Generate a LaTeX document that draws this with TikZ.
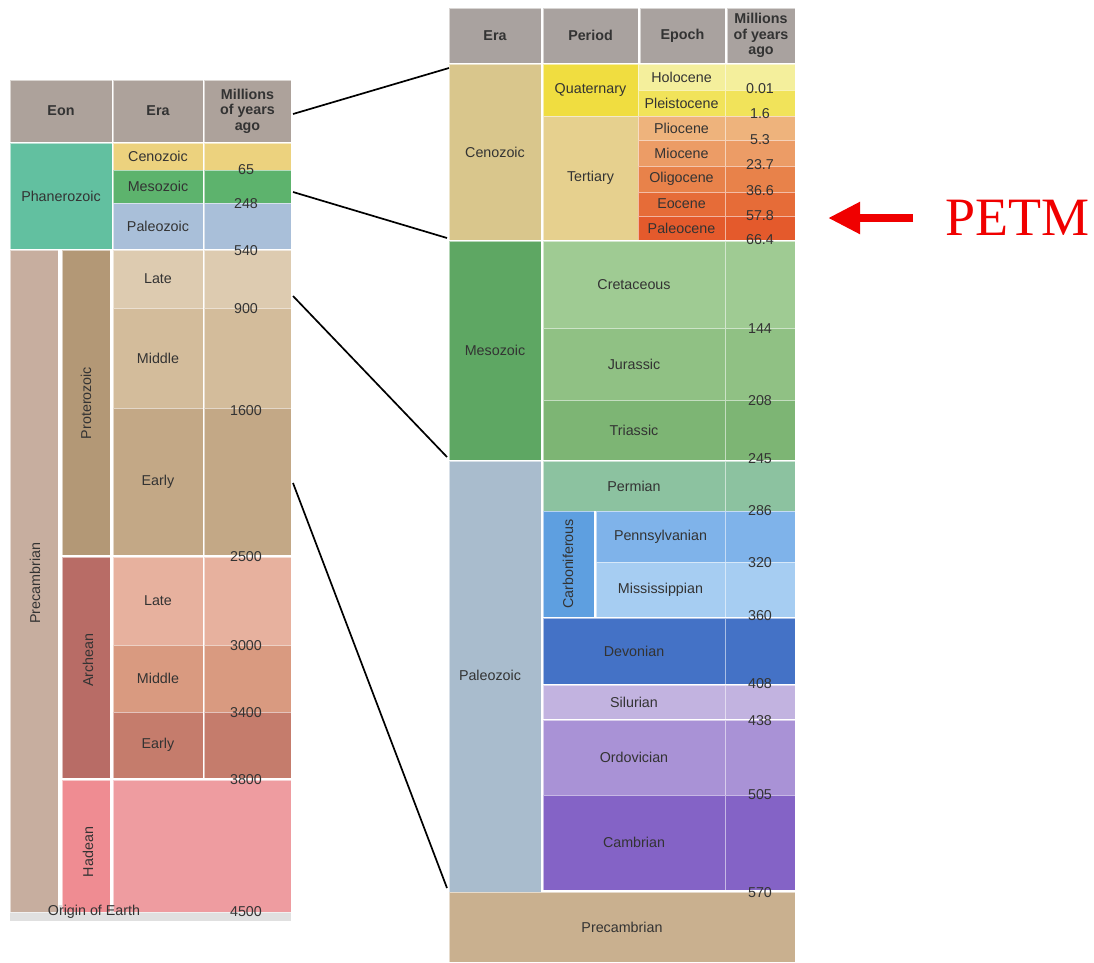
\documentclass[tikz,border=0pt]{standalone}
\usepackage{fontspec}
\newfontfamily\lab{Liberation Sans}
\newfontfamily\serifpetm{Liberation Serif}
\usetikzlibrary{arrows.meta}
\definecolor{hdr}{HTML}{ADA29B}
\definecolor{rhdr}{HTML}{A9A29F}
\definecolor{cPhan}{HTML}{62C0A0}
\definecolor{cCenoL}{HTML}{ECD27E}
\definecolor{cMesoL}{HTML}{5DB36D}
\definecolor{cPaleoL}{HTML}{A9BFD9}
\definecolor{cPrecEon}{HTML}{C7AE9F}
\definecolor{cProt}{HTML}{B39876}
\definecolor{cPLate}{HTML}{DDCBB0}
\definecolor{cPMid}{HTML}{D3BC9B}
\definecolor{cPEarly}{HTML}{C3A886}
\definecolor{cArch}{HTML}{B86C66}
\definecolor{cALate}{HTML}{E7B19E}
\definecolor{cAMid}{HTML}{D99A80}
\definecolor{cAEarly}{HTML}{C57C6C}
\definecolor{cHad}{HTML}{EF8C92}
\definecolor{cHadB}{HTML}{EE9CA0}
\definecolor{cCeno}{HTML}{D9C68C}
\definecolor{cQuat}{HTML}{F0DD40}
\definecolor{cTert}{HTML}{E6D08E}
\definecolor{cHolo}{HTML}{F4EF9C}
\definecolor{cPleis}{HTML}{F1E35A}
\definecolor{cPlio}{HTML}{EEB37C}
\definecolor{cMio}{HTML}{EC9C66}
\definecolor{cOligo}{HTML}{E8824A}
\definecolor{cEo}{HTML}{E66C38}
\definecolor{cPaleo}{HTML}{E45A2C}
\definecolor{cMeso}{HTML}{5EA763}
\definecolor{cCret}{HTML}{9FCB93}
\definecolor{cJur}{HTML}{90C184}
\definecolor{cTri}{HTML}{7DB574}
\definecolor{cPz}{HTML}{A9BCCD}
\definecolor{cPerm}{HTML}{8CC2A0}
\definecolor{cCarb}{HTML}{5E9FE0}
\definecolor{cPenn}{HTML}{7FB3EA}
\definecolor{cMiss}{HTML}{A6CDF2}
\definecolor{cDev}{HTML}{4472C6}
\definecolor{cSil}{HTML}{C2B3E0}
\definecolor{cOrd}{HTML}{A992D6}
\definecolor{cCamb}{HTML}{8463C6}
\definecolor{cPrec}{HTML}{C9B08F}
\definecolor{txt}{HTML}{333333}
\definecolor{petmred}{HTML}{F00000}
\newcommand\cellbox[7]{\node[cell,fill=#6,minimum width={(#4-#2)*1pt},minimum height={(#5-#3)*1pt},anchor=north west] (#1) at (#2,#3) {#7};}
\begin{document}
\begin{tikzpicture}[x=1pt,y=-1pt,
  cell/.style={draw=white,draw opacity=0.55,line width=0.9pt,inner sep=0pt,outer sep=0pt,
    text=txt,font=\lab\fontsize{14.3}{16}\selectfont,align=center},
  hcell/.style={cell,font=\lab\bfseries\fontsize{14.3}{15.5}\selectfont},
  lbl/.style={inner sep=0pt,text=txt,font=\lab\fontsize{14.3}{16}\selectfont},
  num/.style={inner sep=0pt,text=txt,font=\lab\fontsize{14.3}{16}\selectfont},
  conn/.style={black,line width=1.7pt}]
\useasboundingbox (0,0) rectangle (1094,962);
\fill[white] (0,0) rectangle (1094,962);
% ---------------- left panel ----------------
\fill[black!12] (10,905) rectangle (291,921);
\cellbox{lhEon}{10}{80}{112}{142}{hdr}{}
\node[hcell,draw=none,fill=none] (lhEonT) at (lhEon.center) {Eon};
\cellbox{lhEra}{113}{80}{203}{142}{hdr}{}
\node[hcell,draw=none,fill=none] (lhEraT) at (lhEra.center) {Era};
\cellbox{lhMya}{204}{80}{291}{142}{hdr}{}
\node[hcell,draw=none,fill=none] (lhMyaT) at (lhMya.center) {Millions\\of years\\ago};
\cellbox{lPhan}{10}{143}{112}{249}{cPhan}{Phanerozoic}
\cellbox{lCeno}{113}{143}{203}{170}{cCenoL}{Cenozoic}
\cellbox{lCenoM}{204}{143}{291}{170}{cCenoL}{}
\cellbox{lMeso}{113}{170}{203}{203}{cMesoL}{Mesozoic}
\cellbox{lMesoM}{204}{170}{291}{203}{cMesoL}{}
\cellbox{lPz}{113}{203}{203}{249}{cPaleoL}{Paleozoic}
\cellbox{lPzM}{204}{203}{291}{249}{cPaleoL}{}
\cellbox{lPrecE}{10}{250}{58}{912}{cPrecEon}{}
\cellbox{lProt}{62}{250}{110}{555}{cProt}{}
\cellbox{lPLate}{113}{250}{203}{308}{cPLate}{Late}
\cellbox{lPLateM}{204}{250}{291}{308}{cPLate}{}
\cellbox{lPMid}{113}{308}{203}{408}{cPMid}{Middle}
\cellbox{lPMidM}{204}{308}{291}{408}{cPMid}{}
\cellbox{lPEarly}{113}{408}{203}{555}{cPEarly}{Early}
\cellbox{lPEarlyM}{204}{408}{291}{555}{cPEarly}{}
\cellbox{lArch}{62}{557}{110}{778}{cArch}{}
\cellbox{lALate}{113}{557}{203}{645}{cALate}{Late}
\cellbox{lALateM}{204}{557}{291}{645}{cALate}{}
\cellbox{lAMid}{113}{645}{203}{712}{cAMid}{Middle}
\cellbox{lAMidM}{204}{645}{291}{712}{cAMid}{}
\cellbox{lAEarly}{113}{712}{203}{778}{cAEarly}{Early}
\cellbox{lAEarlyM}{204}{712}{291}{778}{cAEarly}{}
\cellbox{lHad}{62}{780}{110}{912}{cHad}{}
\cellbox{lHadB}{113}{780}{291}{912}{cHadB}{}
\node[lbl,rotate=90] (lPrecT) at (35,583) {Precambrian};
\node[lbl,rotate=90] (lProtT) at (86,403) {Proterozoic};
\node[lbl,rotate=90] (lArchT) at (88,660) {Archean};
\node[lbl,rotate=90] (lHadT) at (88,852) {Hadean};
\node[num] (n65) at (246,170) {65};
\node[num] (n248) at (246,204) {248};
\node[num] (n540) at (246,251) {540};
\node[num] (n900) at (246,309) {900};
\node[num] (n1600) at (246,411) {1600};
\node[num] (n2500) at (246,557) {2500};
\node[num] (n3000) at (246,646) {3000};
\node[num] (n3400) at (246,713) {3400};
\node[num] (n3800) at (246,780) {3800};
\node[num] (n4500) at (246,912) {4500};
\node[lbl] (origin) at (94,912) {Origin of Earth};
% ---------------- right panel ----------------
\cellbox{rhEra}{449}{8}{541}{63}{rhdr}{}
\node[hcell,draw=none,fill=none] (rhEraT) at (rhEra.center) {Era};
\cellbox{rhPer}{543}{8}{638}{63}{rhdr}{}
\node[hcell,draw=none,fill=none] (rhPerT) at (rhPer.center) {Period};
\cellbox{rhEpo}{640}{8}{725}{63}{rhdr}{}
\node[hcell,draw=none,fill=none] (rhEpoT) at (rhEpo.center) {Epoch};
\cellbox{rhMya}{727}{8}{795}{63}{rhdr}{}
\node[hcell,draw=none,fill=none] (rhMyaT) at (rhMya.center) {Millions\\of years\\ago};
\cellbox{rCeno}{449}{64}{541}{240}{cCeno}{Cenozoic}
\cellbox{rQuat}{543}{64}{638}{116}{cQuat}{Quaternary}
\cellbox{rTert}{543}{116}{638}{240}{cTert}{Tertiary}
\cellbox{rHolo}{638}{64}{725}{90}{cHolo}{Holocene}
\cellbox{rHoloM}{725}{64}{795}{90}{cHolo}{}
\cellbox{rPleis}{638}{90}{725}{116}{cPleis}{Pleistocene}
\cellbox{rPleisM}{725}{90}{795}{116}{cPleis}{}
\cellbox{rPlio}{638}{116}{725}{140}{cPlio}{Pliocene}
\cellbox{rPlioM}{725}{116}{795}{140}{cPlio}{}
\cellbox{rMio}{638}{140}{725}{166}{cMio}{Miocene}
\cellbox{rMioM}{725}{140}{795}{166}{cMio}{}
\cellbox{rOligo}{638}{166}{725}{192}{cOligo}{Oligocene}
\cellbox{rOligoM}{725}{166}{795}{192}{cOligo}{}
\cellbox{rEo}{638}{192}{725}{216}{cEo}{Eocene}
\cellbox{rEoM}{725}{192}{795}{216}{cEo}{}
\cellbox{rPal}{638}{216}{725}{240}{cPaleo}{Paleocene}
\cellbox{rPalM}{725}{216}{795}{240}{cPaleo}{}
\cellbox{rMeso}{449}{241}{541}{460}{cMeso}{Mesozoic}
\cellbox{rCret}{543}{241}{725}{328}{cCret}{Cretaceous}
\cellbox{rCretM}{725}{241}{795}{328}{cCret}{}
\cellbox{rJur}{543}{328}{725}{400}{cJur}{Jurassic}
\cellbox{rJurM}{725}{328}{795}{400}{cJur}{}
\cellbox{rTri}{543}{400}{725}{460}{cTri}{Triassic}
\cellbox{rTriM}{725}{400}{795}{460}{cTri}{}
\cellbox{rPz}{449}{461}{541}{892}{cPz}{}
\node[lbl] (rPzT) at (490,675) {Paleozoic};
\cellbox{rPerm}{543}{461}{725}{511}{cPerm}{Permian}
\cellbox{rPermM}{725}{461}{795}{511}{cPerm}{}
\cellbox{rCarb}{543}{511}{594}{617}{cCarb}{}
\node[lbl,rotate=90] (rCarbT) at (568,564) {Carboniferous};
\cellbox{rPenn}{596}{511}{725}{562}{cPenn}{Pennsylvanian}
\cellbox{rPennM}{725}{511}{795}{562}{cPenn}{}
\cellbox{rMiss}{596}{562}{725}{617}{cMiss}{Mississippian}
\cellbox{rMissM}{725}{562}{795}{617}{cMiss}{}
\cellbox{rDev}{543}{618}{725}{684}{cDev}{Devonian}
\cellbox{rDevM}{725}{618}{795}{684}{cDev}{}
\cellbox{rSil}{543}{685}{725}{719}{cSil}{Silurian}
\cellbox{rSilM}{725}{685}{795}{719}{cSil}{}
\cellbox{rOrd}{543}{720}{725}{795}{cOrd}{Ordovician}
\cellbox{rOrdM}{725}{720}{795}{795}{cOrd}{}
\cellbox{rCamb}{543}{795}{725}{890}{cCamb}{Cambrian}
\cellbox{rCambM}{725}{795}{795}{890}{cCamb}{}
\cellbox{rPrec}{449}{892}{795}{962}{cPrec}{Precambrian}
\node[num] (r001) at (760,89) {0.01};
\node[num] (r16) at (760,114) {1.6};
\node[num] (r53) at (760,140) {5.3};
\node[num] (r237) at (760,165) {23.7};
\node[num] (r366) at (760,191) {36.6};
\node[num] (r578) at (760,216) {57.8};
\node[num] (r664) at (760,240) {66.4};
\node[num] (r144) at (760,329) {144};
\node[num] (r208) at (760,401) {208};
\node[num] (r245) at (760,459) {245};
\node[num] (r286) at (760,511) {286};
\node[num] (r320) at (760,563) {320};
\node[num] (r360) at (760,616) {360};
\node[num] (r408) at (760,684) {408};
\node[num] (r438) at (760,721) {438};
\node[num] (r505) at (760,795) {505};
\node[num] (r570) at (760,893) {570};
% ---------------- connectors ----------------
\coordinate (a1) at (293,114);
\coordinate (b1) at (449,68);
\coordinate (a2) at (293,192);
\coordinate (b2) at (447,238);
\coordinate (a3) at (293,296);
\coordinate (b3) at (447,457);
\coordinate (a4) at (293,483);
\coordinate (b4) at (447,888);
\draw[conn] (a1) -- (b1);
\draw[conn] (a2) -- (b2);
\draw[conn] (a3) -- (b3);
\draw[conn] (a4) -- (b4);
% ---------------- PETM ----------------
\node[inner sep=0pt,text=petmred,font=\serifpetm\fontsize{54}{60}\selectfont] (petm) at (1017,218) {PETM};
\coordinate (arrtail) at (913,218);
\coordinate (arrtip) at (828,218);
\draw[petmred,line width=8pt,-{Triangle[length=32pt,width=30pt]}] (arrtail) -- (arrtip);
\end{tikzpicture}
\end{document}
